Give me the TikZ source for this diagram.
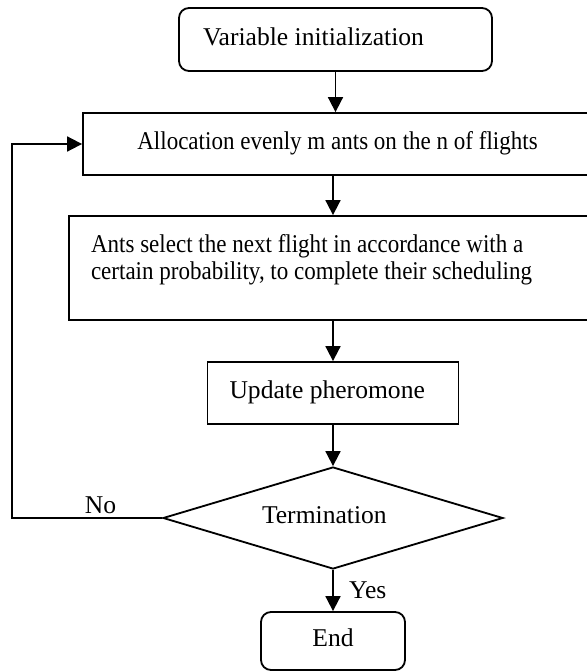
\documentclass[tikz,border=0pt]{standalone}
\usepackage{fontspec}
\setmainfont{Liberation Serif}
\newfontfamily\narrowserif[FakeStretch=0.9]{Liberation Serif}
\usepackage{tikz}
\usetikzlibrary{shapes.geometric, arrows.meta, positioning}

\begin{document}
\begin{tikzpicture}[
    font=\fontsize{18.2pt}{19.9pt}\selectfont,
    line width=1.3pt,
    procbox/.style={rectangle, draw, minimum height=1.55cm, inner xsep=0.55cm,
                    text height=0.42cm, text depth=0.14cm, align=flush left},
    termbox/.style={procbox, rounded corners=0.25cm},
    decbox/.style={diamond, draw, aspect=3.3, minimum width=8.5cm, minimum height=2.55cm,
                   inner sep=0pt, text height=0.42cm, text depth=0.14cm},
    flow/.style={-{Triangle[length=0.375cm, width=0.375cm]}},
    lbl/.style={inner sep=0.08cm},
]
% Page frame (boxes run off the right edge)
\useasboundingbox (0,0) rectangle (14.675,-16.8);
\clip (0,0) rectangle (14.675,-16.8);

% Steps
\node[termbox, text width=6.625cm, inner xsep=0.6cm, minimum height=1.575cm] (init) at (8.3875,-0.9875) {Variable initialization};
\node[procbox, minimum width=12.725cm] (alloc) at (8.4375,-3.6) {\narrowserif Allocation evenly m ants on the n of flights};
\node[procbox, text width=12.3cm, minimum height=2.6cm, text height=0.45cm, text depth=1.25cm] (ants) at (8.425,-6.7)
    {\narrowserif Ants select the next flight in accordance with a\\ certain probability, to complete their scheduling};
\node[procbox, text width=5.175cm] (update) at (8.325,-9.825) {Update pheromone};
\node[decbox, text width=3.55cm, align=flush left] (dec) at (8.325,-12.95) {Termination};
\node[termbox, minimum width=3.6cm, minimum height=1.45cm] (end) at (8.325,-16.025) {End};

% Loop corner
\coordinate (loop) at (0.3,-12.95);

% Arrows
\draw[flow] (init.south) -- (init.south |- alloc.north);
\draw[flow] (alloc.south -| update.north) -- (update.north |- ants.north);
\draw[flow] (ants.south -| update.north) -- (update.north);
\draw[flow] (update.south) -- (dec.north);
\draw[flow] (dec.south) -- node[lbl, right=0.3cm] (yes) {Yes} (end.north);
\draw[flow] (dec.west) -- node[lbl, above, pos=0.41] (no) {No} (loop) |- (alloc.west);

\end{tikzpicture}
\end{document}
